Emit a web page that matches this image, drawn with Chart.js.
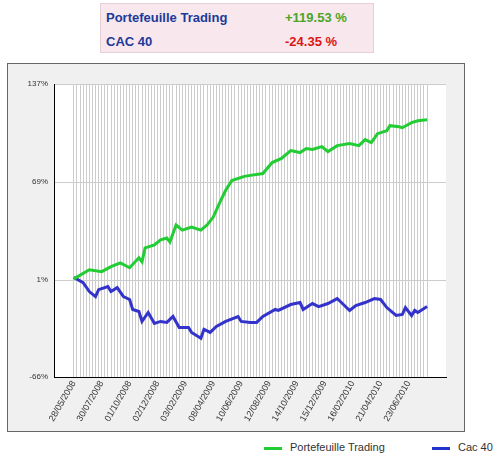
<!DOCTYPE html>
<html>
<head>
<meta charset="utf-8">
<script src="https://cdn.jsdelivr.net/npm/chart.js@4"></script>
<style>
  body { margin: 0; font-family: "Liberation Sans", Arial, sans-serif; background: #fff; }
  #summary { position: absolute; left: 100px; top: 3px; width: 272px; height: 48px; background: #f8e7ec; border: 1px solid #e6d0d6; }
  #summary div { position: absolute; font-weight: bold; font-size: 13px; }
  #box { position: absolute; left: 7px; top: 63px; width: 456px; height: 367px; background: #f0f0f0; border: 1px solid #666; }
  .leg { position: absolute; top: 441px; font-size: 11px; color: #333; }
  .leg span { display: inline-block; width: 18px; height: 3px; vertical-align: middle; margin-right: 8px; }
</style>
</head>
<body>
<div id="summary">
  <div style="left:5px;top:6px;color:#1b3a9b">Portefeuille Trading</div>
  <div style="left:184px;top:6px;color:#4aa526">+119.53 %</div>
  <div style="left:5px;top:30px;color:#1b3a9b">CAC 40</div>
  <div style="left:184px;top:30px;color:#dd1515">-24.35 %</div>
</div>
<div id="box"><canvas id="c" width="456" height="367"></canvas></div>
<div class="leg" style="left:264px"><span style="background:#22cc33"></span>Portefeuille Trading</div>
<div class="leg" style="left:432px"><span style="background:#2233cc"></span>Cac 40</div>
<script>
'use strict';

// x = week number since 28/05/2008
const tickLabels = ['28/05/2008', '30/07/2008', '01/10/2008', '02/12/2008', '03/02/2009', '08/04/2009',
  '10/06/2009', '12/08/2009', '14/10/2009', '15/12/2009', '16/02/2010', '21/04/2010', '23/06/2010'];
const tickEvery = 9;
const lastWeek = 114;

const tradingWeeks = [0, 5, 9, 12, 15, 18, 21, 22, 23, 26, 28, 30, 31, 33, 35, 38, 41, 43, 45, 47, 49, 51, 55, 57,
  61, 64, 67, 70, 73, 75, 77, 80, 82, 85, 89, 92, 94, 96, 98, 101, 102, 105, 106, 109, 111, 114];
const tradingValues = [2, 8.3, 7, 10.4, 13.1, 9.7, 16.6, 13.8, 23.5, 25.5, 29, 30.3, 27.6, 39.3, 35.8, 37.9, 35.8, 39.3,
  44.8, 54.4, 63.4, 70.1, 73, 73.7, 75, 82.6, 85.4, 90.9, 89.5, 92.3, 91.6, 93.6, 90.2, 94.3, 95.7, 94.3, 98.5, 96.4,
  102.6, 104.7, 108.1, 107.4, 106.7, 110.2, 111.5, 112.2];

const cacWeeks = [0, 3, 5, 7, 8, 11, 12, 14, 16, 18, 19, 21, 22, 24, 26, 28, 30, 32, 34, 37, 38, 41, 42, 44, 46, 49,
  53, 54, 57, 59, 61, 65, 66, 70, 73, 74, 77, 79, 82, 85, 86, 89, 91, 94, 97, 99, 101, 104, 106, 107, 109, 110, 111, 114];
const cacValues = [3, -0.6, -6.8, -10.3, -5.5, -3.4, -6.8, -4.1, -10.3, -12.3, -19.2, -20.6, -27.5, -21.3, -28.9, -27.5,
  -28.2, -24.1, -31.7, -31.7, -35.1, -39.2, -33, -35.1, -31, -27.5, -24.1, -27.5, -28.2, -28.2, -24.1, -19.2, -19.9,
  -15.8, -14.4, -19.2, -15.1, -17.2, -15.1, -11.7, -13.7, -19.9, -16.5, -14.4, -11.7, -12.3, -17.9, -23.4, -22.7,
  -17.9, -23.4, -19.9, -21.3, -17.2];

const yTicks = [-66, 1, 69, 137];

const pts = (ws, vs) => ws.map((w, i) => ({ x: w, y: vs[i] }));

new Chart(document.getElementById('c'), {
  type: 'line',
  data: {
    datasets: [
      { label: 'Portefeuille Trading', data: pts(tradingWeeks, tradingValues), borderColor: '#22cc33',
        borderWidth: 3, pointRadius: 0, tension: 0 },
      { label: 'Cac 40', data: pts(cacWeeks, cacValues), borderColor: '#3333cc',
        borderWidth: 3, pointRadius: 0, tension: 0 }
    ]
  },
  options: {
    responsive: false,
    animation: false,
    layout: { padding: { left: 0, top: 20, right: 18, bottom: 0 } },
    plugins: { legend: { display: false }, tooltip: { enabled: false } },
    scales: {
      x: {
        type: 'linear',
        min: -6.4,
        max: 120.1,
        afterBuildTicks: (s) => {
          s.ticks = [];
          for (let w = 0; w <= lastWeek; w++) s.ticks.push({ value: w });
        },
        afterFit: (s) => { s.height = 54; },
        ticks: {
          autoSkip: false,
          minRotation: 60,
          maxRotation: 60,
          padding: 2,
          color: '#333',
          font: { family: 'Liberation Sans', size: 9 },
          callback: (v) => (v % tickEvery === 0 && tickLabels[v / tickEvery]) ? tickLabels[v / tickEvery] : ''
        },
        grid: { color: '#cccccc', drawTicks: false },
        border: { color: '#000', width: 1 }
      },
      y: {
        min: -66,
        max: 137,
        afterBuildTicks: (s) => { s.ticks = yTicks.map(v => ({ value: v })); },
        afterFit: (s) => { s.width = 46; },
        ticks: {
          color: '#333',
          padding: 6,
          font: { family: 'Liberation Sans', size: 8 },
          callback: (v) => v + '%'
        },
        grid: { color: '#cccccc', drawTicks: false },
        border: { color: '#000', width: 1 }
      }
    }
  },
  plugins: [{
    id: 'whiteArea',
    beforeDraw: (chart) => {
      const a = chart.chartArea, ctx = chart.ctx;
      ctx.save();
      ctx.fillStyle = '#ffffff';
      ctx.fillRect(a.left, a.top, a.right - a.left, a.bottom - a.top);
      ctx.restore();
    }
  }]
});
</script>
</body>
</html>
